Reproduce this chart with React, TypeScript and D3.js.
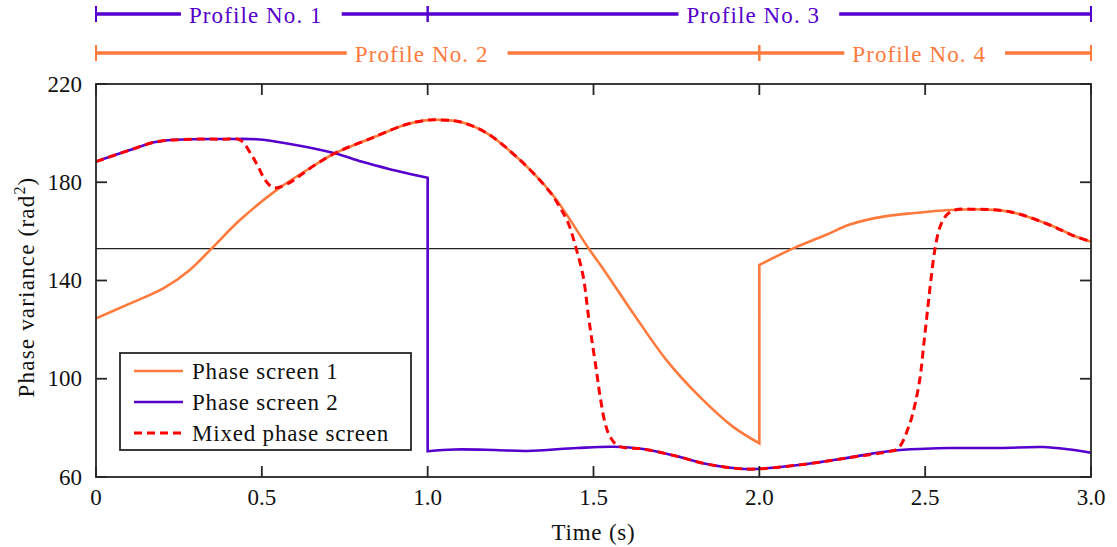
import React, { useEffect, useRef } from "react";
import * as d3 from "d3";

const W = 1117;
const H = 547;

// ---- data ----
const screen1TimeA = [0, 0.1, 0.203, 0.283, 0.349, 0.434, 0.545, 0.66, 0.72, 0.835, 0.93, 0.987, 1.037, 1.1, 1.178, 1.278, 1.379, 1.485, 1.535, 1.62, 1.72, 1.82, 1.92, 2.0];
const screen1ValA = [124.6, 130.5, 136.8, 144.3, 153.1, 164.6, 176.9, 187.0, 191.8, 198.2, 203.3, 205.1, 205.4, 204.5, 200.0, 189.1, 174.5, 153.1, 143.6, 126.6, 107.6, 92.7, 80.5, 73.7];
const screen1TimeB = [2.0, 2.102, 2.2, 2.273, 2.374, 2.47, 2.575, 2.65, 2.755, 2.876, 2.95, 3.0];
const screen1ValB = [146.3, 153.1, 158.5, 162.8, 166.0, 167.5, 168.7, 169.0, 168.0, 162.6, 158.1, 155.8];

const screen2TimeA = [0, 0.1, 0.183, 0.283, 0.4, 0.484, 0.585, 0.72, 0.8, 0.886, 0.947, 1.0];
const screen2ValA = [188.4, 193.0, 196.5, 197.5, 197.6, 197.5, 195.6, 191.8, 188.4, 185.3, 183.4, 181.8];
const screen2TimeB = [1.0, 1.08, 1.2, 1.3, 1.45, 1.56, 1.65, 1.75, 1.83, 1.9, 1.97, 2.05, 2.17, 2.27, 2.4, 2.5, 2.575, 2.725, 2.855, 2.93, 3.0];
const screen2ValB = [70.5, 71.2, 71.0, 70.6, 71.8, 72.3, 71.4, 68.5, 65.6, 64.0, 63.2, 63.9, 65.8, 67.9, 70.7, 71.5, 71.8, 71.8, 72.2, 71.3, 69.9];

const mixedTime = [0, 0.1, 0.183, 0.283, 0.38, 0.434, 0.469, 0.489, 0.51, 0.535, 0.575, 0.66, 0.72, 0.835, 0.93, 0.987, 1.037, 1.1, 1.178, 1.278, 1.369, 1.4, 1.424, 1.449, 1.469, 1.485, 1.495, 1.51, 1.52, 1.535, 1.55, 1.575, 1.65, 1.75, 1.83, 1.9, 1.97, 2.05, 2.17, 2.27, 2.389, 2.419, 2.454, 2.47, 2.485, 2.495, 2.505, 2.515, 2.53, 2.545, 2.565, 2.59, 2.65, 2.755, 2.876, 2.95, 3.0];
const mixedVal = [188.4, 193.0, 196.5, 197.5, 197.5, 197.2, 191.1, 186.3, 180.9, 177.8, 179.2, 187.0, 191.8, 198.2, 203.3, 205.1, 205.4, 204.5, 200.0, 189.1, 176.0, 169.5, 163.3, 152.4, 141.6, 125.3, 115.8, 102.2, 92.7, 81.9, 76.4, 72.6, 71.4, 68.5, 65.6, 64.0, 63.2, 63.9, 65.8, 67.9, 70.3, 71.7, 81.9, 90.0, 100.8, 113.0, 125.3, 137.5, 153.1, 161.9, 166.7, 168.7, 169.0, 168.0, 162.6, 158.1, 155.8];

const thresholdValue = 153;

const profilesTop = [
  { label: "Profile No. 1", start: 0, end: 1.0 },
  { label: "Profile No. 3", start: 1.0, end: 3.0 },
];
const profilesBottom = [
  { label: "Profile No. 2", start: 0, end: 2.0 },
  { label: "Profile No. 4", start: 2.0, end: 3.0 },
];

const xTicks = [0, 0.5, 1.0, 1.5, 2.0, 2.5, 3.0];
const xTickLabels = ["0", "0.5", "1.0", "1.5", "2.0", "2.5", "3.0"];
const yTicks = [60, 100, 140, 180, 220];
const legendLabels = ["Phase screen 1", "Phase screen 2", "Mixed phase screen"];

// ---- styling ----
const ORANGE = "#ff7a3c";
const PURPLE = "#5500cc";
const RED = "#ff0000";
const AXIS = "#262626";
const FONT = "Liberation Serif, DejaVu Serif, Times New Roman, serif";
const FS = 23;
const LS = "0.8px";

const PL = 96, PR = 1091, PT = 84, PB = 477;

export default function App() {
  const ref = useRef<SVGSVGElement | null>(null);

  useEffect(() => {
    const svg = d3.select(ref.current);
    svg.selectAll("*").remove();

    const x = d3.scaleLinear().domain([0, 3]).range([PL, PR]);
    const y = d3.scaleLinear().domain([60, 220]).range([PB, PT]);

    const line = d3
      .line<[number, number]>()
      .x((d) => x(d[0]))
      .y((d) => y(d[1]))
      .curve(d3.curveCatmullRom.alpha(0.5));

    const zip = (t: number[], v: number[]) => t.map((tt, i) => [tt, v[i]] as [number, number]);
    const joined = (a: [number, number][], b: [number, number][]) =>
      (line(a) || "") + (line(b) || "").replace(/^M/, "L");

    const txt = (sel: any) => sel.style("font-family", FONT).style("font-size", FS + "px");
    const spaced = (sel: any) => sel.style("letter-spacing", LS);

    svg.append("rect").attr("x", 0).attr("y", 0).attr("width", W).attr("height", H).attr("fill", "white");

    // threshold line
    svg
      .append("line")
      .attr("x1", x(0))
      .attr("x2", x(3))
      .attr("y1", y(thresholdValue))
      .attr("y2", y(thresholdValue))
      .attr("stroke", "#222")
      .attr("stroke-width", 1.2);

    // series
    svg
      .append("path")
      .attr("d", joined(zip(screen1TimeA, screen1ValA), zip(screen1TimeB, screen1ValB)))
      .attr("fill", "none")
      .attr("stroke", ORANGE)
      .attr("stroke-width", 2.6);
    svg
      .append("path")
      .attr("d", joined(zip(screen2TimeA, screen2ValA), zip(screen2TimeB, screen2ValB)))
      .attr("fill", "none")
      .attr("stroke", PURPLE)
      .attr("stroke-width", 2.6);
    svg
      .append("path")
      .attr("d", line(zip(mixedTime, mixedVal)) || "")
      .attr("fill", "none")
      .attr("stroke", RED)
      .attr("stroke-width", 3)
      .attr("stroke-dasharray", "8,5");

    // axes box + ticks
    const ax = svg.append("g");
    ax.append("rect")
      .attr("x", PL)
      .attr("y", PT)
      .attr("width", PR - PL)
      .attr("height", PB - PT)
      .attr("fill", "none")
      .attr("stroke", AXIS)
      .attr("stroke-width", 1.8);
    const TL = 11;
    xTicks.forEach((t, i) => {
      ax.append("line").attr("x1", x(t)).attr("x2", x(t)).attr("y1", PB).attr("y2", PB - TL).attr("stroke", AXIS).attr("stroke-width", 1.8);
      ax.append("line").attr("x1", x(t)).attr("x2", x(t)).attr("y1", PT).attr("y2", PT + TL).attr("stroke", AXIS).attr("stroke-width", 1.8);
      ax.append("text")
        .attr("x", x(t))
        .attr("y", 505)
        .attr("text-anchor", "middle")
        .attr("fill", "#111")
        .call(txt)
        .text(xTickLabels[i]);
    });
    yTicks.forEach((v) => {
      ax.append("line").attr("x1", PL).attr("x2", PL + TL).attr("y1", y(v)).attr("y2", y(v)).attr("stroke", AXIS).attr("stroke-width", 1.8);
      ax.append("line").attr("x1", PR).attr("x2", PR - TL).attr("y1", y(v)).attr("y2", y(v)).attr("stroke", AXIS).attr("stroke-width", 1.8);
      ax.append("text")
        .attr("x", 82)
        .attr("y", y(v) + 7.5)
        .attr("text-anchor", "end")
        .attr("fill", "#111")
        .call(txt)
        .text(String(v));
    });

    // axis labels
    svg
      .append("text")
      .attr("x", (PL + PR) / 2)
      .attr("y", 540)
      .attr("text-anchor", "middle")
      .attr("fill", "#111")
      .call(txt)
      .call(spaced)
      .text("Time (s)");
    const yl = svg
      .append("text")
      .attr("transform", `translate(34,287) rotate(-90)`)
      .attr("text-anchor", "middle")
      .attr("fill", "#111")
      .call(txt)
      .style("letter-spacing", "1.2px");
    yl.append("tspan").text("Phase variance (rad");
    yl.append("tspan").style("font-size", "16px").attr("dy", -9).text("2");
    yl.append("tspan").attr("dy", 9).text(")");

    // legend
    const lg = svg.append("g");
    lg.append("rect")
      .attr("x", 120)
      .attr("y", 353)
      .attr("width", 291)
      .attr("height", 97)
      .attr("fill", "white")
      .attr("stroke", AXIS)
      .attr("stroke-width", 1.8);
    const legendStyles = [
      { color: ORANGE, dash: null as string | null, w: 2.6 },
      { color: PURPLE, dash: null as string | null, w: 2.6 },
      { color: RED, dash: "8,5", w: 3 },
    ];
    legendLabels.forEach((lab, i) => {
      const yy = 371 + i * 31;
      const l = lg
        .append("line")
        .attr("x1", 134)
        .attr("x2", 183)
        .attr("y1", yy)
        .attr("y2", yy)
        .attr("stroke", legendStyles[i].color)
        .attr("stroke-width", legendStyles[i].w);
      if (legendStyles[i].dash) l.attr("stroke-dasharray", legendStyles[i].dash as string);
      lg.append("text")
        .attr("x", 192)
        .attr("y", yy + 8)
        .attr("fill", "#111")
        .call(txt)
        .call(spaced)
        .text(lab);
    });

    // profile bars
    const drawProfiles = (items: typeof profilesTop, yy: number, color: string) => {
      const g = svg.append("g");
      items.forEach((p) => {
        const x0 = x(p.start);
        const x1 = x(p.end);
        const mid = (x0 + x1) / 2 - 6;
        const t = g
          .append("text")
          .attr("x", mid)
          .attr("y", yy + 9)
          .attr("text-anchor", "middle")
          .attr("fill", color)
          .call(txt)
          .style("letter-spacing", "1.1px")
          .text(p.label);
        const node = t.node() as SVGTextElement;
        const bw = node.getComputedTextLength();
        const gl = mid - bw / 2 - 8;
        const gr = mid + bw / 2 + 19;
        g.append("line").attr("x1", x0).attr("x2", gl).attr("y1", yy).attr("y2", yy).attr("stroke", color).attr("stroke-width", 3.5);
        g.append("line").attr("x1", gr).attr("x2", x1).attr("y1", yy).attr("y2", yy).attr("stroke", color).attr("stroke-width", 3.5);
        [x0, x1].forEach((xx) =>
          g.append("line").attr("x1", xx).attr("x2", xx).attr("y1", yy - 8).attr("y2", yy + 8).attr("stroke", color).attr("stroke-width", 2)
        );
      });
    };
    drawProfiles(profilesTop, 14, PURPLE);
    drawProfiles(profilesBottom, 53, ORANGE);
  }, []);

  return (
    <svg
      ref={ref}
      width={W}
      height={H}
      style={{ position: "absolute", left: 0, top: 0, display: "block" }}
    />
  );
}
